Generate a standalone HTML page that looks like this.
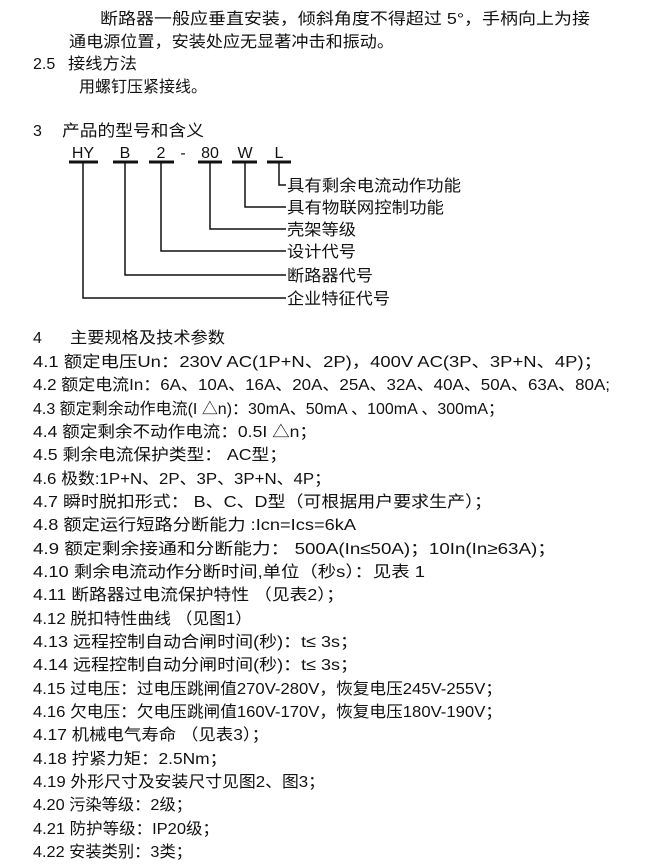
<!DOCTYPE html>
<html><head><meta charset="utf-8"><style>
html,body{margin:0;padding:0;background:#fff;}
svg{display:block;}
text{font-family:"Liberation Sans","Noto Sans CJK SC",sans-serif;font-size:16px;fill:#111;}
</style></head><body>
<svg width="648" height="865" xmlns="http://www.w3.org/2000/svg">
<g>
<text x="100" y="24" textLength="490" lengthAdjust="spacingAndGlyphs">断路器一般应垂直安装，倾斜角度不得超过 5°，手柄向上为接</text>
<text x="69" y="47" textLength="325" lengthAdjust="spacingAndGlyphs">通电源位置，安装处应无显著冲击和振动。</text>
<text x="33" y="69">2.5</text>
<text x="68" y="69" textLength="69" lengthAdjust="spacingAndGlyphs">接线方法</text>
<text x="79" y="92" textLength="128" lengthAdjust="spacingAndGlyphs">用螺钉压紧接线。</text>
<text x="33" y="136">3</text>
<text x="62" y="136" textLength="142" lengthAdjust="spacingAndGlyphs">产品的型号和含义</text>
</g>
<g text-anchor="middle">
<text x="83" y="158">HY</text><text x="125" y="158">B</text><text x="161" y="158">2</text>
<text x="183" y="158">-</text><text x="210" y="158">80</text><text x="245" y="158">W</text><text x="279" y="158">L</text>
</g>
<g stroke="#111" stroke-width="3">
<line x1="69" y1="162" x2="98" y2="162"/><line x1="113" y1="162" x2="138" y2="162"/>
<line x1="149" y1="162" x2="174" y2="162"/><line x1="198" y1="162" x2="222" y2="162"/>
<line x1="232" y1="162" x2="257" y2="162"/><line x1="267" y1="162" x2="291" y2="162"/>
</g>
<g stroke="#111" stroke-width="1.5" fill="none">
<polyline points="279,162 279,185 286,185"/>
<polyline points="245,162 245,207 286,207"/>
<polyline points="210,162 210,229 286,229"/>
<polyline points="161,162 161,251 286,251"/>
<polyline points="125,162 125,275 286,275"/>
<polyline points="83,162 83,298 286,298"/>
</g>
<g>
<text x="287" y="191" textLength="174" lengthAdjust="spacingAndGlyphs">具有剩余电流动作功能</text>
<text x="287" y="213" textLength="157" lengthAdjust="spacingAndGlyphs">具有物联网控制功能</text>
<text x="287" y="235" textLength="69" lengthAdjust="spacingAndGlyphs">壳架等级</text>
<text x="287" y="257" textLength="69" lengthAdjust="spacingAndGlyphs">设计代号</text>
<text x="287" y="281" textLength="86" lengthAdjust="spacingAndGlyphs">断路器代号</text>
<text x="287" y="304" textLength="103" lengthAdjust="spacingAndGlyphs">企业特征代号</text>
</g>
<g>
<text x="33" y="343">4</text>
<text x="70" y="343" textLength="155" lengthAdjust="spacingAndGlyphs">主要规格及技术参数</text>
<text x="33" y="367" textLength="569" lengthAdjust="spacingAndGlyphs">4.1  额定电压Un：230V AC(1P+N、2P)，400V AC(3P、3P+N、4P)；</text>
<text x="33" y="390" textLength="577" lengthAdjust="spacingAndGlyphs">4.2   额定电流In：6A、10A、16A、20A、25A、32A、40A、50A、63A、80A;</text>
<text x="33" y="414" textLength="471" lengthAdjust="spacingAndGlyphs">4.3  额定剩余动作电流(I △n)：30mA、50mA 、100mA 、300mA；</text>
<text x="33" y="437" textLength="284" lengthAdjust="spacingAndGlyphs">4.4  额定剩余不动作电流：0.5I △n；</text>
<text x="33" y="460" textLength="254" lengthAdjust="spacingAndGlyphs">4.5  剩余电流保护类型： AC型；</text>
<text x="33" y="484" textLength="298" lengthAdjust="spacingAndGlyphs">4.6  极数:1P+N、2P、3P、3P+N、4P；</text>
<text x="33" y="507" textLength="459" lengthAdjust="spacingAndGlyphs">4.7  瞬时脱扣形式： B、C、D型（可根据用户要求生产）；</text>
<text x="33" y="530" textLength="323" lengthAdjust="spacingAndGlyphs">4.8  额定运行短路分断能力 :Icn=Ics=6kA</text>
<text x="33" y="554" textLength="523" lengthAdjust="spacingAndGlyphs">4.9  额定剩余接通和分断能力： 500A(In≤50A)；10In(In≥63A)；</text>
<text x="33" y="577" textLength="392" lengthAdjust="spacingAndGlyphs">4.10 剩余电流动作分断时间,单位（秒s）：见表 1</text>
<text x="33" y="600" textLength="311" lengthAdjust="spacingAndGlyphs">4.11 断路器过电流保护特性 （见表2）；</text>
<text x="33" y="624" textLength="219" lengthAdjust="spacingAndGlyphs">4.12 脱扣特性曲线 （见图1）</text>
<text x="33" y="647" textLength="325" lengthAdjust="spacingAndGlyphs">4.13 远程控制自动合闸时间(秒)：t≤ 3s；</text>
<text x="33" y="670" textLength="325" lengthAdjust="spacingAndGlyphs">4.14 远程控制自动分闸时间(秒)：t≤ 3s；</text>
<text x="33" y="694" textLength="469" lengthAdjust="spacingAndGlyphs">4.15 过电压：过电压跳闸值270V-280V，恢复电压245V-255V；</text>
<text x="33" y="717" textLength="469" lengthAdjust="spacingAndGlyphs">4.16 欠电压：欠电压跳闸值160V-170V，恢复电压180V-190V；</text>
<text x="33" y="740" textLength="236" lengthAdjust="spacingAndGlyphs">4.17 机械电气寿命 （见表3）；</text>
<text x="33" y="764" textLength="194" lengthAdjust="spacingAndGlyphs">4.18 拧紧力矩：2.5Nm；</text>
<text x="33" y="787" textLength="292" lengthAdjust="spacingAndGlyphs">4.19 外形尺寸及安装尺寸见图2、图3；</text>
<text x="33" y="810" textLength="159" lengthAdjust="spacingAndGlyphs">4.20 污染等级：2级；</text>
<text x="33" y="834" textLength="186" lengthAdjust="spacingAndGlyphs">4.21 防护等级：IP20级；</text>
<text x="33" y="857" textLength="159" lengthAdjust="spacingAndGlyphs">4.22 安装类别：3类；</text>
</g>
</svg>
</body></html>
